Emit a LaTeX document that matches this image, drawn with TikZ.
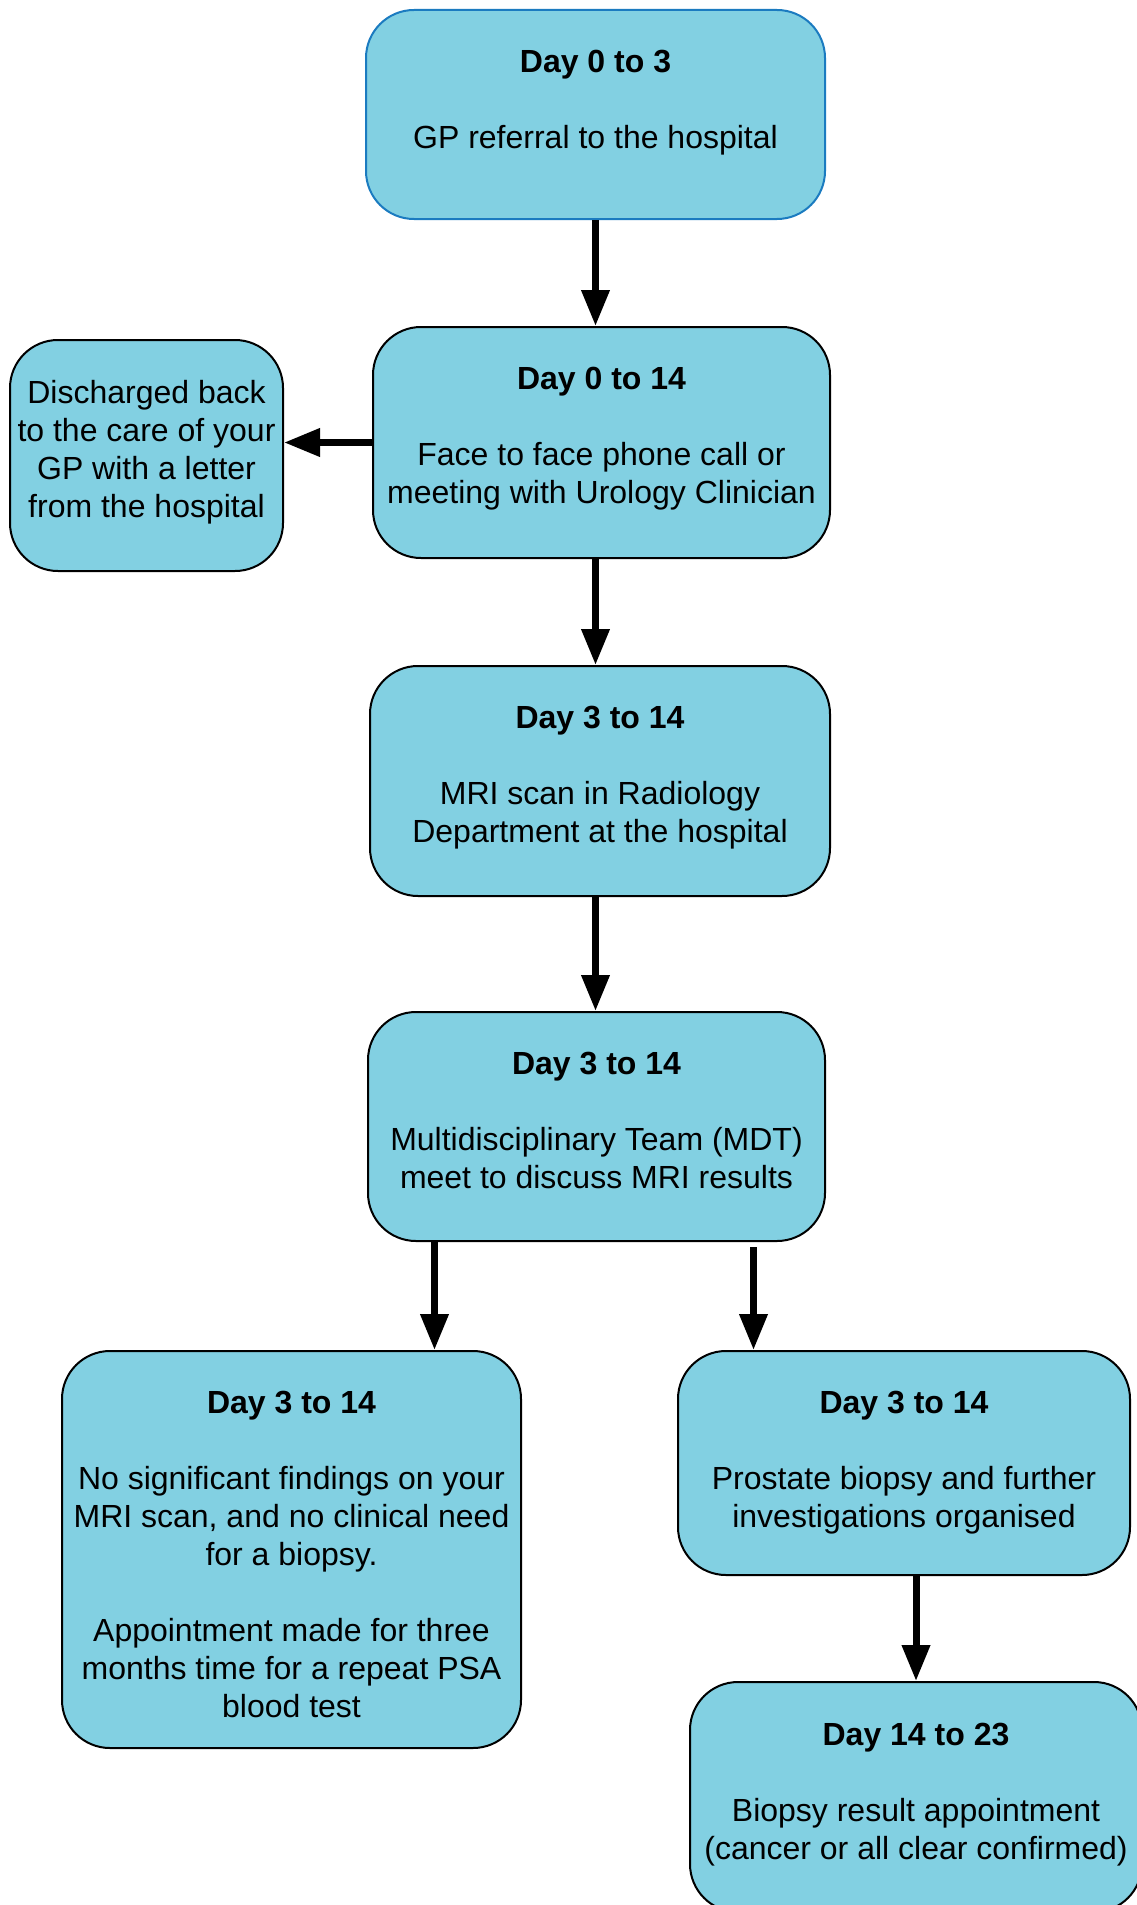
\documentclass[tikz,border=0pt]{standalone}
\usepackage{fontspec}
\setmainfont{Liberation Sans}
\usepackage{xcolor}
\usepackage{tikz}
\usetikzlibrary{arrows.meta, positioning, calc}

\definecolor{stagefill}{HTML}{82D0E2}
\definecolor{refblue}{HTML}{1B7BC0}
\newcommand{\stagefont}{\fontsize{32}{38}\selectfont}

\begin{document}
\begin{tikzpicture}[
    x=1pt, y=-1pt,
    stage/.style={rectangle, rounded corners=48pt, draw=black, line width=2pt, fill=stagefill, align=center, font=\stagefont, inner sep=0pt},
    arrow/.style={-{Triangle[length=36pt, width=27pt]}, line width=7pt}
]
\useasboundingbox (0,0) rectangle (1137,1905);

\node[stage, draw=refblue, minimum width=459pt, minimum height=209pt, text depth=30pt] (referral) at (595.5,114.5) {\textbf{Day 0 to 3}\\[38pt]GP referral to the hospital};
\node[stage, minimum width=457pt, minimum height=231pt, text depth=14pt] (clinic) at (601.5,442.5) {\textbf{Day 0 to 14}\\[38pt]Face to face phone call or\\meeting with Urology Clinician};
\node[stage, minimum width=273pt, minimum height=231pt, text depth=14pt] (discharge) at (146.5,455.5) {Discharged back\\to the care of your\\GP with a letter\\from the hospital};
\node[stage, minimum width=460pt, minimum height=230pt, text depth=14pt] (mri) at (600,781) {\textbf{Day 3 to 14}\\[38pt]MRI scan in Radiology\\Department at the hospital};
\node[stage, minimum width=457pt, minimum height=229pt, text depth=12pt] (mdt) at (596.5,1126.5) {\textbf{Day 3 to 14}\\[38pt]Multidisciplinary Team (MDT)\\meet to discuss MRI results};
\node[stage, minimum width=459pt, minimum height=397pt] (nofind) at (291.5,1549.5) {\rule{0pt}{33pt}\textbf{Day 3 to 14}\\[38pt]No significant findings on your\\MRI scan, and no clinical need\\for a biopsy.\\[38pt]Appointment made for three\\months time for a repeat PSA\\blood test};
\node[stage, minimum width=452pt, minimum height=224pt] (biopsy) at (904,1463) {\textbf{Day 3 to 14}\\[38pt]Prostate biopsy and further\\investigations organised};
\node[stage, minimum width=452pt, minimum height=230pt, text depth=12pt] (result) at (916,1797) {\textbf{Day 14 to 23}\\[38pt]Biopsy result appointment\\(cancer or all clear confirmed)};

\draw[arrow] (referral.south) -- (referral.south |- clinic.north);
\draw[arrow] (clinic.west) -- (discharge.east |- clinic.west);
\draw[arrow] (clinic.south -| referral.south) -- (mri.north -| referral.south);
\draw[arrow] (mri.south -| referral.south) -- (mdt.north -| referral.south);
\draw[arrow] ([xshift=-162pt]mdt.south) -- ([xshift=-162pt]mdt.south |- nofind.north);
\draw[arrow] ([xshift=157pt,yshift=-5pt]mdt.south) -- ([xshift=157pt]mdt.south |- biopsy.north);
\draw[arrow] (result.north |- biopsy.south) -- (result.north);
\end{tikzpicture}
\end{document}
